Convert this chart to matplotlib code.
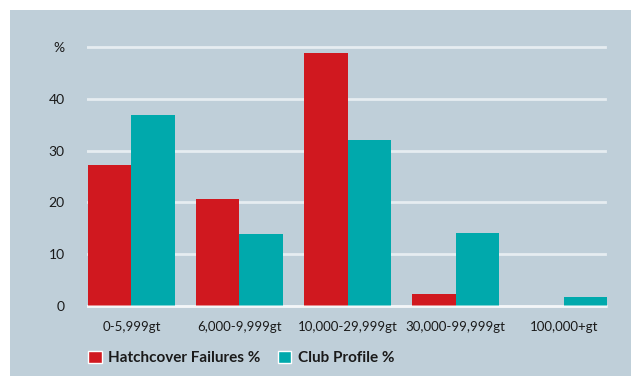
import numpy as np
import matplotlib
matplotlib.use('Agg')
import matplotlib.pyplot as plt
from matplotlib.patches import Rectangle, Patch

# data
categories = ['0-5,999gt', '6,000-9,999gt', '10,000-29,999gt', '30,000-99,999gt', '100,000+gt']
hatchcover = [27.2, 20.7, 48.8, 2.3, 0.0]
club_profile = [36.9, 13.9, 32.0, 14.1, 1.7]
yticks = [0, 10, 20, 30, 40, 50]
ytick_labels = ['0', '10', '20', '30', '40', '%']

RED = '#d0181f'
TEAL = '#00a9ac'
BG = '#bfcfd9'

plt.rcParams['font.family'] = ['Lato', 'DejaVu Sans']

fig = plt.figure(figsize=(6.31, 3.76), dpi=100)
fig.patch.set_facecolor('white')
# panel background (white margin on top and left)
fig.patches.append(Rectangle((10 / 631, 0), 1, 1 - 10 / 376, transform=fig.transFigure,
                             facecolor=BG, edgecolor='none', zorder=-10))

ax = fig.add_axes([0.138, 0.179, 0.8255, 0.703])
ax.set_zorder(2)
ax.patch.set_alpha(0)

x = np.arange(len(categories))
w = 0.4
ax.bar(x - w / 2, hatchcover, w, color=RED, zorder=3, label='Hatchcover Failures %')
ax.bar(x + w / 2, club_profile, w, color=TEAL, zorder=3, label='Club Profile %')

# gridlines
for t in yticks:
    ax.axhline(t, xmin=0, xmax=0.994, color='#e6edf1', lw=2, zorder=1)
ax.axhline(0, color='white', lw=2, alpha=0.55, zorder=4)

ax.set_xlim(-0.41, 4.41)
ax.set_ylim(-0.5, 50.5)
ax.set_yticks(yticks)
ax.set_yticklabels(ytick_labels, fontsize=10)
ax.set_xticks(x)
ax.set_xticklabels(categories, fontsize=9.5)
ax.tick_params(axis='both', length=0, colors='#1a1a1a')
ax.tick_params(axis='y', pad=16)
ax.tick_params(axis='x', pad=9)
for s in ax.spines.values():
    s.set_visible(False)

handles = [Patch(facecolor=RED, edgecolor='white', linewidth=1, label='Hatchcover Failures %'),
           Patch(facecolor=TEAL, edgecolor='white', linewidth=1, label='Club Profile %')]
leg = fig.legend(handles=handles, loc='center left', bbox_to_anchor=(74 / 631, 1 - 358 / 376),
                 ncol=2, frameon=False, handlelength=0.9, handleheight=0.9,
                 handletextpad=0.45, columnspacing=1.1,
                 prop={'weight': 'bold', 'size': 11})
leg.set_zorder(3)
for t in leg.get_texts():
    t.set_color('#1a1a1a')

fig.savefig('out.png', dpi=100, facecolor=fig.get_facecolor())
